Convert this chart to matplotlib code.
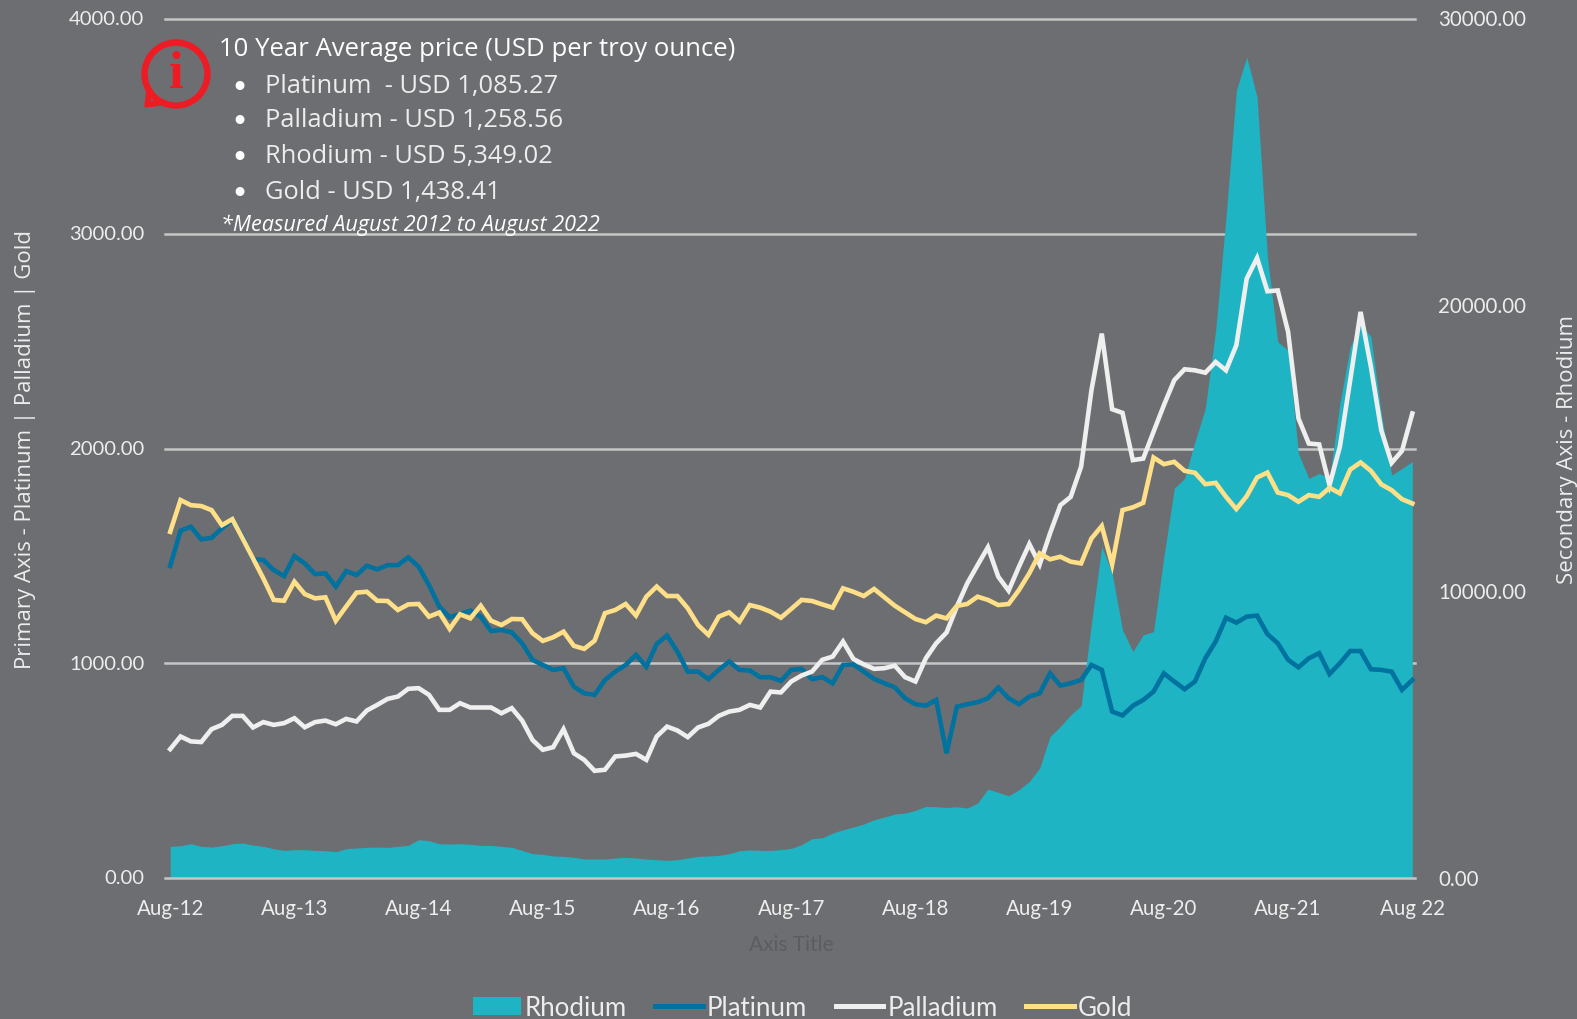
import numpy as np
import matplotlib
matplotlib.use("Agg")
import matplotlib.pyplot as plt
from matplotlib.patches import Circle, Polygon, Patch
from matplotlib.lines import Line2D
from matplotlib.transforms import ScaledTranslation

# monthly prices, Aug-12 to Aug-22
platinum = [1453, 1617, 1636, 1577, 1584, 1628, 1667, 1589, 1484, 1481, 1434, 1406, 1499, 1465, 1415, 1419,
            1357, 1429, 1411, 1454, 1437, 1457, 1457, 1493, 1450, 1364, 1264, 1214, 1229, 1245, 1217, 1150,
            1155, 1144, 1093, 1016, 992, 969, 977, 891, 860, 853, 922, 961, 992, 1039, 984,
            1090, 1129, 1054, 961, 961, 926, 969, 1008, 969, 966, 935, 935, 918, 969, 974, 926, 935, 907,
            992, 995, 961, 927, 907, 888, 837, 809, 803, 829, 581, 798, 809, 819, 837, 887, 837, 809, 845,
            860, 953, 896, 907, 922, 992, 969, 775, 757, 802, 829, 868, 953, 915, 879, 915, 1023, 1101,
            1212, 1189, 1217, 1222, 1136, 1093, 1016, 981, 1023, 1047, 950, 1000, 1057, 1057, 972, 969,
            961, 876, 922]
palladium = [600, 659, 636, 633, 693, 713, 755, 755, 701, 726, 713, 721, 744, 702, 726, 733, 716, 741, 729,
             780, 806, 834, 845, 881, 884, 853, 783, 783, 814, 794, 794, 794, 767, 791, 733, 643, 597, 609,
             693, 581, 550, 499, 504, 566, 570, 578, 550,
             659, 705, 687, 656, 701, 718, 755, 775, 783, 806, 794, 868, 864, 915, 943, 961, 1016, 1031,
             1101, 1020, 995, 974, 977, 989, 935, 915, 1023, 1093, 1143, 1264, 1372, 1457, 1540, 1403,
             1338, 1450, 1555, 1460, 1605, 1736, 1775, 1915, 2271, 2535, 2183, 2166, 1946, 1953, 2078,
             2202, 2318, 2369, 2364, 2353, 2403, 2364, 2481, 2791, 2887, 2732, 2736, 2543, 2140, 2023,
             2019, 1829, 2008, 2318, 2636, 2380, 2085, 1933, 1989, 2163]
gold = [1612, 1760, 1736, 1732, 1713, 1643, 1671, 1581, 1488, 1395, 1295, 1291, 1380, 1322, 1302, 1307, 1198,
        1264, 1329, 1333, 1291, 1290, 1248, 1274, 1276, 1217, 1236, 1160, 1228, 1209, 1268, 1198, 1178, 1206,
        1205, 1140, 1104, 1121, 1147, 1081, 1067, 1105, 1233, 1248, 1276, 1222, 1310,
        1357, 1313, 1313, 1256, 1178, 1132, 1217, 1237, 1194, 1271, 1259, 1240, 1212, 1253, 1295, 1290, 1274,
        1259, 1349, 1333, 1313, 1346, 1307, 1268, 1237, 1206, 1191, 1222, 1209, 1267, 1276, 1310, 1295, 1271,
        1276, 1341, 1419, 1512, 1484, 1496, 1473, 1465, 1581, 1639, 1460, 1713, 1726, 1747, 1958, 1927, 1938,
        1896, 1887, 1834, 1840, 1775, 1718, 1778, 1865, 1888, 1795, 1783, 1752, 1783, 1775, 1817, 1791, 1902,
        1935, 1896, 1833, 1806, 1764, 1744]
rhodium = [1105, 1128, 1198, 1105, 1082, 1128, 1198, 1221, 1151, 1105, 1023, 965, 988, 988, 965, 954, 919, 1023,
           1047, 1070, 1082, 1070, 1105, 1140, 1337, 1303, 1198, 1186, 1198, 1175, 1140, 1140, 1105, 1070, 965,
           849, 826, 768, 756, 721, 663, 663, 663, 698, 721, 698, 663,
           640, 616, 640, 698, 756, 768, 791, 849, 954, 977, 965, 965, 989, 1035, 1163, 1372, 1407, 1570, 1686,
           1779, 1884, 2035, 2128, 2233, 2268, 2361, 2500, 2489, 2466, 2489, 2442, 2617, 3105, 2989, 2873, 3082,
           3373, 3838, 4943, 5292, 5699, 6013, 8897, 11572, 10641, 8664, 7908, 8490, 8606, 11223, 13607, 13956,
           15235, 16398, 19131, 23085, 27505, 28668, 27272, 21690, 18724, 18433, 14828, 13956, 14130, 13956,
           16573, 18550, 19363, 18899, 16224, 14072, 14305, 14538]
months = np.arange(len(gold))

year_labels = ["Aug-12", "Aug-13", "Aug-14", "Aug-15", "Aug-16", "Aug-17", "Aug-18", "Aug-19", "Aug-20",
               "Aug-21", "Aug 22"]
primary_ticks = [0, 1000, 2000, 3000, 4000]
secondary_ticks = [0, 10000, 20000, 30000]
notes = ["Platinum  - USD 1,085.27", "Palladium - USD 1,258.56", "Rhodium - USD 5,349.02", "Gold - USD 1,438.41"]

BG = "#6D6E71"
TEAL = "#1EB4C3"
BLUE = "#00729F"
WHITE = "#EFEFEF"
YELLOW = "#FFDF87"
GRID = "#C6C6C6"
TXT = "#EDEDED"
RED = "#ED1C24"

plt.rcParams["font.family"] = ["Lato", "DejaVu Sans"]

W, H = 1577, 1020
fig = plt.figure(figsize=(W / 100, H / 100), dpi=100, facecolor=BG)
rect = [165 / W, 1 - 879 / H, (1417.5 - 165) / W, (879 - 20) / H]

# rhodium axis sits at the back so the area hides the gridlines
ax2 = fig.add_axes(rect, zorder=1)
ax2.set_facecolor(BG)
ax = ax2.twinx()
ax.set_zorder(2)
ax.patch.set_visible(False)

ax2.fill_between(months, 0, rhodium, color=TEAL, lw=0, zorder=2)
for t in primary_ticks:
    ax2.axhline(t * 30000 / 4000, xmin=0, xmax=0.998, color=GRID, lw=1.8, zorder=3 if t == 0 else 1, clip_on=False)
ax2.set_xlim(-0.5, 120.5)
ax2.set_ylim(0, 30000)

ax.plot(months, platinum, color=BLUE, lw=3.3, solid_joinstyle="miter")
ax.plot(months, palladium, color=WHITE, lw=3.3, solid_joinstyle="miter")
ax.plot(months, gold, color=YELLOW, lw=3.3, solid_joinstyle="miter")
ax.set_ylim(0, 4000)

# primary on the left, secondary on the right
ax.yaxis.tick_left()
ax2.yaxis.tick_right()
ax.set_yticks(primary_ticks, [f"{t:.2f}" for t in primary_ticks])
ax2.set_yticks(secondary_ticks, [f"{t:.2f}" for t in secondary_ticks])
ax2.set_xticks(months[::12], year_labels)
ax.tick_params(axis="y", length=0, pad=15, labelsize=14.6, labelcolor=TXT)
ax2.tick_params(axis="y", length=0, pad=15, labelsize=14.8, labelcolor=TXT)
ax2.tick_params(axis="x", length=0, pad=14.5, labelsize=14.8, labelcolor=TXT)
for a in (ax, ax2):
    for s in a.spines.values():
        s.set_visible(False)
    # nudge value labels up a little
    for lab in a.get_yticklabels():
        lab.set_transform(lab.get_transform() + ScaledTranslation(0, 1.5 / 100, fig.dpi_scale_trans))

# overlay in pixel coordinates for the annotation block and axis titles
ov = fig.add_axes([0, 0, 1, 1], zorder=5)
ov.set_xlim(0, W)
ov.set_ylim(H, 0)
ov.axis("off")

ov.text(219, 50, "10 Year Average price (USD per troy ounce)", fontsize=18.5, color="white",
        family="Open Sans", va="center", ha="left")
for y, s in zip([87, 121, 157, 193], notes):
    ov.text(239, y + 1.5, "\u2022", fontsize=22, color="white", va="center", ha="center", family="DejaVu Sans")
    ov.text(265, y, s, fontsize=18.4, color=TXT, family="Open Sans", va="center", ha="left")
ov.text(221, 225, "*Measured August 2012 to August 2022", fontsize=15.6, color="white", style="italic",
        family="Open Sans", va="center", ha="left")

# info icon
ov.add_patch(Polygon([[147, 90], [145, 108], [170, 105]], closed=True, fc=RED, ec=RED, lw=1, joinstyle="round"))
ov.add_patch(Polygon([[153, 92], [151, 102], [168, 100]], closed=True, fc=BG, ec=BG, lw=0))
ov.add_patch(Circle((176, 75), 31.5, fc=BG, ec=RED, lw=4.6))
ov.text(176, 75, "i", fontsize=38, color=RED, family="Liberation Serif", weight="bold", ha="center", va="center")

ov.text(26, 450, "Primary Axis - Platinum | Palladium | Gold", rotation=90, fontsize=16, color=TXT,
        family="Open Sans", va="center", ha="center")
ov.text(1568, 450, "Secondary Axis - Rhodium", rotation=90, fontsize=16, color=TXT,
        family="Open Sans", va="center", ha="center")
ov.text(791, 945, "Axis Title", fontsize=15, color="#5C5D60", va="center", ha="center")

handles = [Patch(fc=TEAL, ec="none"),
           Line2D([], [], color=BLUE, lw=3.6),
           Line2D([], [], color=WHITE, lw=3.6),
           Line2D([], [], color=YELLOW, lw=3.6)]
fig.legend(handles, ["Rhodium", "Platinum", "Palladium", "Gold"], ncol=4, frameon=False,
           loc="center left", bbox_to_anchor=(473 / W, 1 - 1008.5 / H), borderpad=0, borderaxespad=0,
           fontsize=18.6, labelcolor=TXT, handlelength=1.85, handleheight=0.7, handletextpad=0.15,
           columnspacing=1.1)

fig.savefig("out.png", dpi=100, facecolor=BG)
